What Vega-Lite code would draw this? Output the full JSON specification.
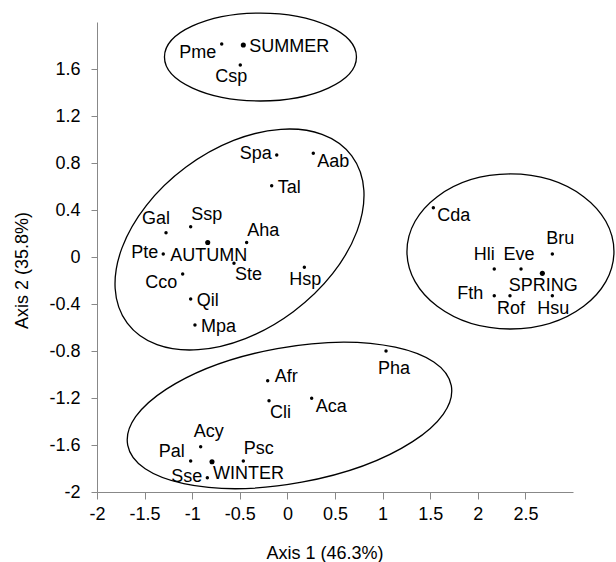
{
  "$schema": "https://vega.github.io/schema/vega-lite/v6.json",
  "width": 476,
  "height": 470,
  "autosize": "none",
  "padding": {"left": 97, "top": 22, "right": 43, "bottom": 70},
  "background": "white",
  "config": {
    "view": {"stroke": null},
    "font": "Liberation Sans",
    "text": {"fontSize": 18, "color": "black", "baseline": "alphabetic"},
    "axis": {
      "grid": false,
      "domainColor": "#888888",
      "tickColor": "#888888",
      "labelColor": "black",
      "labelFont": "Liberation Sans",
      "labelFontSize": 18,
      "titleFont": "Liberation Sans",
      "titleFontSize": 18,
      "titleFontWeight": "normal",
      "titleColor": "black",
      "labelOverlap": false,
      "labelFlush": false
    }
  },
  "datasets": {
    "pts": [
      {"n": "Pme", "x": -0.69, "y": 1.813, "kind": "sp", "pos": "lb"},
      {"n": "SUMMER", "x": -0.463, "y": 1.804, "kind": "grp", "pos": "r"},
      {"n": "Csp", "x": -0.495, "y": 1.634, "kind": "sp", "pos": "bl"},
      {"n": "Spa", "x": -0.112, "y": 0.868, "kind": "sp", "pos": "l"},
      {"n": "Aab", "x": 0.272, "y": 0.883, "kind": "sp", "pos": "rb"},
      {"n": "Tal", "x": -0.165, "y": 0.607, "kind": "sp", "pos": "r"},
      {"n": "Gal", "x": -1.275, "y": 0.207, "kind": "sp", "pos": "aL"},
      {"n": "Ssp", "x": -1.016, "y": 0.258, "kind": "sp", "pos": "ur"},
      {"n": "Aha", "x": -0.428, "y": 0.123, "kind": "sp", "pos": "ur"},
      {"n": "AUTUMN", "x": -0.837, "y": 0.123, "kind": "grp", "pos": "b"},
      {"n": "Pte", "x": -1.304, "y": 0.026, "kind": "sp", "pos": "l"},
      {"n": "Ste", "x": -0.561, "y": -0.054, "kind": "sp", "pos": "br"},
      {"n": "Hsp", "x": 0.178, "y": -0.088, "kind": "sp", "pos": "b"},
      {"n": "Cco", "x": -1.1, "y": -0.145, "kind": "sp", "pos": "lb"},
      {"n": "Qil", "x": -1.016, "y": -0.357, "kind": "sp", "pos": "r"},
      {"n": "Mpa", "x": -0.971, "y": -0.579, "kind": "sp", "pos": "r"},
      {"n": "Cda", "x": 1.533, "y": 0.42, "kind": "sp", "pos": "rb"},
      {"n": "Bru", "x": 2.783, "y": 0.026, "kind": "sp", "pos": "aR"},
      {"n": "Hli", "x": 2.173, "y": -0.102, "kind": "sp", "pos": "aL"},
      {"n": "Eve", "x": 2.454, "y": -0.102, "kind": "sp", "pos": "a"},
      {"n": "SPRING", "x": 2.678, "y": -0.139, "kind": "grp", "pos": "b"},
      {"n": "Fth", "x": 2.173, "y": -0.329, "kind": "sp", "pos": "lf"},
      {"n": "Rof", "x": 2.338, "y": -0.329, "kind": "sp", "pos": "b"},
      {"n": "Hsu", "x": 2.783, "y": -0.329, "kind": "sp", "pos": "b"},
      {"n": "Afr", "x": -0.207, "y": -1.053, "kind": "sp", "pos": "ra"},
      {"n": "Cli", "x": -0.193, "y": -1.223, "kind": "sp", "pos": "br"},
      {"n": "Aca", "x": 0.255, "y": -1.203, "kind": "sp", "pos": "rb"},
      {"n": "Pha", "x": 1.036, "y": -0.8, "kind": "sp", "pos": "bf"},
      {"n": "Acy", "x": -0.911, "y": -1.614, "kind": "sp", "pos": "aR"},
      {"n": "Pal", "x": -1.016, "y": -1.736, "kind": "sp", "pos": "la"},
      {"n": "WINTER", "x": -0.792, "y": -1.742, "kind": "grp", "pos": "br"},
      {"n": "Psc", "x": -0.463, "y": -1.736, "kind": "sp", "pos": "ur"},
      {"n": "Sse", "x": -0.841, "y": -1.878, "kind": "sp", "pos": "l"}
    ],
    "ell": [
      {"g": "SUMMER", "x": -0.283, "y": 1.702},
      {"g": "AUTUMN", "x": -0.503, "y": 0.149},
      {"g": "SPRING", "x": 2.343, "y": 0.047},
      {"g": "WINTER", "x": 0.022, "y": -1.348}
    ]
  },
  "data": {"name": "pts"},
  "encoding": {
    "x": {
      "field": "x", "type": "quantitative",
      "scale": {"domain": [-2, 3], "nice": false, "zero": false},
      "axis": {
        "values": [-2, -1.5, -1, -0.5, 0, 0.5, 1, 1.5, 2, 2.5],
        "labelExpr": "toString(datum.value)",
        "title": "Axis 1 (46.3%)",
        "tickSize": 7,
        "labelPadding": 6,
        "titleX": 227.5,
        "titleY": 66,
        "titleBaseline": "alphabetic"
      }
    },
    "y": {
      "field": "y", "type": "quantitative",
      "scale": {"domain": [-2, 2], "nice": false, "zero": false},
      "axis": {
        "values": [-2, -1.6, -1.2, -0.8, -0.4, 0, 0.4, 0.8, 1.2, 1.6],
        "labelExpr": "toString(datum.value)",
        "title": "Axis 2 (35.8%)",
        "tickSize": 6,
        "labelPadding": 11,
        "titleX": -70,
        "titleY": 248,
        "titleBaseline": "alphabetic"
      }
    }
  },
  "layer": [
    {
      "data": {"name": "ell"},
      "transform": [{"filter": "datum.g == 'SUMMER'"}],
      "mark": {"type": "point", "shape": "M -1 0 C -1 -0.253 -0.5523 -0.458 0 -0.458 C 0.5523 -0.458 1 -0.253 1 0 C 1 0.253 0.5523 0.458 0 0.458 C -0.5523 0.458 -1 0.253 -1 0 Z", "size": 36864, "angle": 0, "filled": false, "stroke": "black", "strokeWidth": 1.3, "opacity": 1}
    },
    {
      "data": {"name": "ell"},
      "transform": [{"filter": "datum.g == 'AUTUMN'"}],
      "mark": {"type": "point", "shape": "M -1 0 C -1 -0.355 -0.5523 -0.643 0 -0.643 C 0.5523 -0.643 1 -0.355 1 0 C 1 0.355 0.5523 0.643 0 0.643 C -0.5523 0.643 -1 0.355 -1 0 Z", "size": 78400, "angle": 323.3, "filled": false, "stroke": "black", "strokeWidth": 1.3, "opacity": 1}
    },
    {
      "data": {"name": "ell"},
      "transform": [{"filter": "datum.g == 'SPRING'"}],
      "mark": {"type": "point", "shape": "M -1 0 C -1 -0.414 -0.5523 -0.749 0 -0.749 C 0.5523 -0.749 1 -0.414 1 0 C 1 0.414 0.5523 0.749 0 0.749 C -0.5523 0.749 -1 0.414 -1 0 Z", "size": 42849, "angle": 0, "filled": false, "stroke": "black", "strokeWidth": 1.3, "opacity": 1}
    },
    {
      "data": {"name": "ell"},
      "transform": [{"filter": "datum.g == 'WINTER'"}],
      "mark": {"type": "point", "shape": "M -1 0 C -1 -0.228 -0.5523 -0.413 0 -0.413 C 0.5523 -0.413 1 -0.228 1 0 C 1 0.228 0.5523 0.413 0 0.413 C -0.5523 0.413 -1 0.228 -1 0 Z", "size": 108241, "angle": 349.6, "filled": false, "stroke": "black", "strokeWidth": 1.3, "opacity": 1}
    },
    {
      "mark": {"type": "point", "shape": "circle", "filled": true, "color": "black", "opacity": 1},
      "encoding": {
        "size": {"field": "kind", "type": "nominal", "scale": {"domain": ["sp", "grp"], "range": [12, 26]}, "legend": null}
      }
    },
    {"transform": [{"filter": "datum.pos == 'r'"}], "mark": {"type": "text", "align": "left", "dx": 6, "dy": 7}, "encoding": {"text": {"field": "n"}}},
    {"transform": [{"filter": "datum.pos == 'rb'"}], "mark": {"type": "text", "align": "left", "dx": 4, "dy": 13.5}, "encoding": {"text": {"field": "n"}}},
    {"transform": [{"filter": "datum.pos == 'ra'"}], "mark": {"type": "text", "align": "left", "dx": 7, "dy": 1}, "encoding": {"text": {"field": "n"}}},
    {"transform": [{"filter": "datum.pos == 'l'"}], "mark": {"type": "text", "align": "right", "dx": -5, "dy": 4}, "encoding": {"text": {"field": "n"}}},
    {"transform": [{"filter": "datum.pos == 'lf'"}], "mark": {"type": "text", "align": "right", "dx": -11, "dy": 3}, "encoding": {"text": {"field": "n"}}},
    {"transform": [{"filter": "datum.pos == 'lb'"}], "mark": {"type": "text", "align": "right", "dx": -5.5, "dy": 14}, "encoding": {"text": {"field": "n"}}},
    {"transform": [{"filter": "datum.pos == 'la'"}], "mark": {"type": "text", "align": "right", "dx": -6, "dy": -4}, "encoding": {"text": {"field": "n"}}},
    {"transform": [{"filter": "datum.pos == 'b'"}], "mark": {"type": "text", "align": "center", "dx": 1, "dy": 18}, "encoding": {"text": {"field": "n"}}},
    {"transform": [{"filter": "datum.pos == 'bl'"}], "mark": {"type": "text", "align": "center", "dx": -9, "dy": 17}, "encoding": {"text": {"field": "n"}}},
    {"transform": [{"filter": "datum.pos == 'bf'"}], "mark": {"type": "text", "align": "center", "dx": 8, "dy": 23}, "encoding": {"text": {"field": "n"}}},
    {"transform": [{"filter": "datum.pos == 'a'"}], "mark": {"type": "text", "align": "center", "dx": -2, "dy": -9}, "encoding": {"text": {"field": "n"}}},
    {"transform": [{"filter": "datum.pos == 'aR'"}], "mark": {"type": "text", "align": "center", "dx": 8, "dy": -10}, "encoding": {"text": {"field": "n"}}},
    {"transform": [{"filter": "datum.pos == 'aL'"}], "mark": {"type": "text", "align": "center", "dx": -10, "dy": -8.5}, "encoding": {"text": {"field": "n"}}},
    {"transform": [{"filter": "datum.pos == 'ur'"}], "mark": {"type": "text", "align": "left", "dx": 0.5, "dy": -7}, "encoding": {"text": {"field": "n"}}},
    {"transform": [{"filter": "datum.pos == 'br'"}], "mark": {"type": "text", "align": "left", "dx": 1, "dy": 17}, "encoding": {"text": {"field": "n"}}}
  ]
}
